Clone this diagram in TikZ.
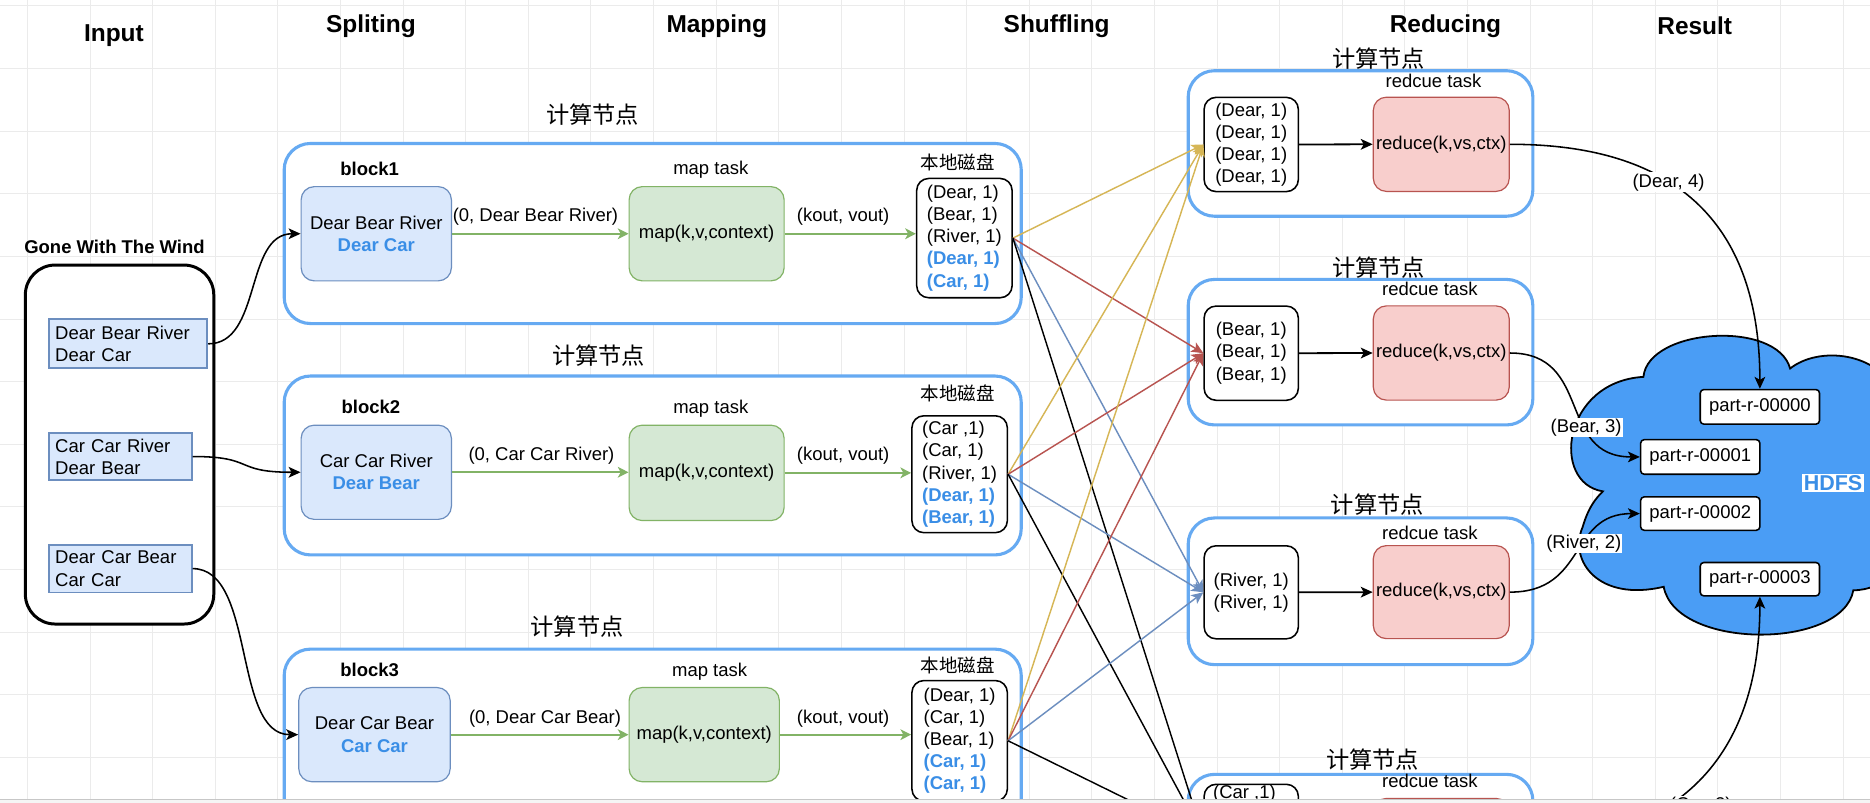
\documentclass[tikz,border=0pt]{standalone}
\usepackage{fontspec}
\setmainfont{Liberation Sans}
\newfontfamily\cjk{Noto Sans CJK SC}
\usetikzlibrary{arrows.meta}
\definecolor{cblue}{HTML}{66AAF2}
\definecolor{sfill}{HTML}{DAE8FC}
\definecolor{sline}{HTML}{6C8EBF}
\definecolor{gfill}{HTML}{D5E8D4}
\definecolor{gline}{HTML}{82B366}
\definecolor{rfill}{HTML}{F8CECC}
\definecolor{rline}{HTML}{B85450}
\definecolor{yline}{HTML}{D6B656}
\definecolor{tblue}{HTML}{3A8EE6}
\definecolor{cloudfill}{HTML}{4A9DF5}
\definecolor{gridc}{HTML}{EBEBEB}
\newcommand\fs{\fontsize{15.5}{18.5}\selectfont}
\begin{document}
\begin{tikzpicture}[x=1pt,y=-1pt,
  every node/.style={font=\fs, inner sep=0pt},
  phase/.style={font=\fontsize{20.5}{24}\selectfont\bfseries},
  boldlbl/.style={font=\fs\bfseries},
  nodetitle/.style={font=\cjk\fontsize{19.5}{23}\selectfont},
  disktitle/.style={font=\cjk\fs},
  container/.style={draw=cblue, line width=2.6pt, rounded corners=22pt, fill=white, anchor=north west},
  splitbox/.style={draw=sline, fill=sfill, line width=1pt, rounded corners=11pt, align=center, anchor=north west},
  mapbox/.style={draw=gline, fill=gfill, line width=1pt, rounded corners=11pt, anchor=north west},
  redbox/.style={draw=rline, fill=rfill, line width=1pt, rounded corners=11pt, anchor=north west},
  listbox/.style={draw=black, fill=white, line width=1.3pt, rounded corners=10pt, align=left, anchor=north west},
  inbox/.style={draw=sline, fill=sfill, line width=1.6pt, align=left, anchor=north west, inner xsep=5.5pt},
  partbox/.style={draw=black, fill=white, line width=1.3pt, rounded corners=3pt, anchor=north west, minimum width=100pt},
  garrow/.style={draw=gline, line width=1.5pt, -{Stealth[length=9pt,width=9pt,inset=2.5pt]}},
  karrow/.style={draw=black, line width=1.3pt, -{Stealth[length=10pt,width=9pt,inset=2.5pt]}},
  sharrow/.style={line width=1.2pt, -{Stealth[length=10pt,width=9pt,inset=2.5pt]}},
  elabel/.style={fill=white, inner sep=1pt},
]
\useasboundingbox (0,0) rectangle (1568,673.3);
\fill[white] (0,0) rectangle (1568,673.3);
\begin{scope}
\clip (0,0) rectangle (1568,670.5);
% grid
\foreach \i in {0,...,29} \draw[gridc, line width=0.8pt] ({23+52.5*\i},0) -- ({23+52.5*\i},671);
\foreach \j in {0,...,12} \draw[gridc, line width=0.8pt] (0,{5+52.5*\j}) -- (1568,{5+52.5*\j});

% phase titles
\node[phase] (hin) at (95.5,29.5) {Input};
\node[phase] (hsp) at (311,22) {Spliting};
\node[phase] (hmp) at (601,22) {Mapping};
\node[phase] (hsh) at (886,22) {Shuffling};
\node[phase] (hrd) at (1212,22) {Reducing};
\node[phase] (hrs) at (1421,22) {Result};

% input
\node[boldlbl] (gwtw) at (96,207) {Gone With The Wind};
\node[draw=black, line width=2.5pt, rounded corners=25pt, fill=white, anchor=north west, minimum width=158pt, minimum height=301pt] (inbig) at (20,221) {};
\node[inbox, text width=122pt, minimum height=41pt] (ib1) at (40,267) {Dear Bear River\\Dear Car};
\node[inbox, text width=109pt, minimum height=40pt] (ib2) at (40,362) {Car Car River\\Dear Bear};
\node[inbox, text width=109pt, minimum height=40pt] (ib3) at (40,456) {Dear Car Bear\\Car Car};

% map-side containers
\node[container, minimum width=618pt, minimum height=151pt] (c1) at (237,119) {};
\node[container, minimum width=618pt, minimum height=150pt] (c2) at (237,314) {};
\node[container, minimum width=618pt, minimum height=200pt] (c3) at (237,543) {};
\node[nodetitle] (t1) at (497,96) {计算节点};
\node[nodetitle] (t2) at (502,298) {计算节点};
\node[nodetitle] (t3) at (484,525) {计算节点};

% row 1
\node[boldlbl] (b1) at (310,142) {block1};
\node[splitbox, minimum width=126pt, minimum height=79pt] (s1) at (252,156) {Dear Bear River\\\textcolor{tblue}{\bfseries Dear Car}};
\node (mt1) at (596,142) {map task};
\node[mapbox, minimum width=130pt, minimum height=79pt] (m1) at (527,156) {map(k,v,context)};
\node[disktitle] (dt1) at (803,136) {本地磁盘};
\node[listbox, minimum width=80pt, minimum height=100pt] (d1) at (768,149) {(Dear, 1)\\(Bear, 1)\\(River, 1)\\\textcolor{tblue}{\bfseries (Dear, 1)}\\\textcolor{tblue}{\bfseries (Car, 1)}};
\draw[garrow] (s1.east) -- (m1.west);
\draw[garrow] (m1.east) -- (m1.east -| d1.west);
\node (lab1a) at (449,182) {(0, Dear Bear River)};
\node (lab1b) at (707,182) {(kout, vout)};

% row 2
\node[boldlbl] (b2) at (311,341) {block2};
\node[splitbox, minimum width=126pt, minimum height=79pt] (s2) at (252,356) {Car Car River\\\textcolor{tblue}{\bfseries Dear Bear}};
\node (mt2) at (596,343) {map task};
\node[mapbox, minimum width=130pt, minimum height=80pt] (m2) at (527,356) {map(k,v,context)};
\node[disktitle] (dt2) at (803,330) {本地磁盘};
\node[listbox, minimum width=80pt, minimum height=98pt] (d2) at (764,348) {(Car ,1)\\(Car, 1)\\(River, 1)\\\textcolor{tblue}{\bfseries (Dear, 1)}\\\textcolor{tblue}{\bfseries (Bear, 1)}};
\draw[garrow] (s2.east) -- (s2.east -| m2.west);
\draw[garrow] (m2.east) -- (m2.east -| d2.west);
\node (lab2a) at (454,382) {(0, Car Car River)};
\node (lab2b) at (707,382) {(kout, vout)};

% row 3
\node[boldlbl] (b3) at (310,562) {block3};
\node[splitbox, minimum width=127pt, minimum height=79pt] (s3) at (250,576) {Dear Car Bear\\\textcolor{tblue}{\bfseries Car Car}};
\node (mt3) at (595,563) {map task};
\node[mapbox, minimum width=126pt, minimum height=79pt] (m3) at (527,576) {map(k,v,context)};
\node[disktitle] (dt3) at (803,558) {本地磁盘};
\node[listbox, minimum width=80pt, minimum height=101pt] (d3) at (764,570) {(Dear, 1)\\(Car, 1)\\(Bear, 1)\\\textcolor{tblue}{\bfseries (Car, 1)}\\\textcolor{tblue}{\bfseries (Car, 1)}};
\draw[garrow] (s3.east) -- (s3.east -| m3.west);
\draw[garrow] (m3.east) -- (m3.east -| d3.west);
\node (lab3a) at (457,603) {(0, Dear Car Bear)};
\node (lab3b) at (707,603) {(kout, vout)};

% input -> split
\draw[karrow] (ib1.east) .. controls +(45,0) and +(-47,0) .. (s1.west);
\draw[karrow] (ib2.east) .. controls +(53,0) and +(-57,0) .. (s2.west);
\draw[karrow] (ib3.east) .. controls +(53,0) and +(-55,0) .. (s3.west);

% reduce containers
\node[container, minimum width=289pt, minimum height=122pt] (r1c) at (995,58) {};
\node[container, minimum width=289pt, minimum height=122pt] (r2c) at (995,233) {};
\node[container, minimum width=289pt, minimum height=123pt] (r3c) at (995,433) {};
\node[container, minimum width=289pt, minimum height=150pt] (r4c) at (995,648) {};
\node[nodetitle] (rt1) at (1156,49) {计算节点};
\node[nodetitle] (rt2) at (1156,224) {计算节点};
\node[nodetitle] (rt3) at (1155,423) {计算节点};
\node[nodetitle] (rt4) at (1151,637) {计算节点};
\node (rk1) at (1202,68) {redcue task};
\node (rk2) at (1199,242) {redcue task};
\node (rk3) at (1199,447) {redcue task};
\node (rk4) at (1199,655) {redcue task};

\node[listbox, minimum width=79pt, minimum height=79pt] (l1) at (1009,81) {(Dear, 1)\\(Dear, 1)\\(Dear, 1)\\(Dear, 1)};
\node[redbox, minimum width=114pt, minimum height=79pt] (rd1) at (1151,81) {reduce(k,vs,ctx)};
\node[listbox, minimum width=79pt, minimum height=79pt] (l2) at (1009,256) {(Bear, 1)\\(Bear, 1)\\(Bear, 1)};
\node[redbox, minimum width=114pt, minimum height=79pt] (rd2) at (1151,256) {reduce(k,vs,ctx)};
\node[listbox, minimum width=79pt, minimum height=78pt] (l3) at (1009,457) {(River, 1)\\(River, 1)};
\node[redbox, minimum width=114pt, minimum height=78pt] (rd3) at (1151,457) {reduce(k,vs,ctx)};
\node[listbox, minimum width=79pt, minimum height=88pt] (l4) at (1009,657) {};
\node[anchor=north west] (l4t) at (1017,658) {(Car ,1)};
\node[redbox, minimum width=114pt, minimum height=79pt] (rd4) at (1151,669) {};
\draw[karrow, line width=1.5pt] (l1.east) -- (rd1.west);
\draw[karrow, line width=1.5pt] (l2.east) -- (rd2.west);
\draw[karrow, line width=1.5pt] (l3.east) -- (rd3.west);

% shuffle
\foreach \d in {d1,d2,d3}{
  \draw[sharrow, yline] (\d.east) -- (l1.west);
  \draw[sharrow, rline] (\d.east) -- (l2.west);
  \draw[sharrow, sline] (\d.east) -- (l3.west);
  \draw[sharrow, black] (\d.east) -- (l4.west);
}

% HDFS cloud
\draw[fill=cloudfill, line width=1.5pt] (1378,316)
  .. controls (1382,275) and (1490,268) .. (1501,309)
  .. controls (1525,290) and (1575,295) .. (1590,330)
  -- (1590,480)
  .. controls (1580,490) and (1565,495) .. (1554,495)
  .. controls (1545,545) and (1405,545) .. (1395,492)
  .. controls (1340,505) and (1315,470) .. (1327,442)
  .. controls (1332,425) and (1338,418) .. (1344,412)
  .. controls (1300,405) and (1310,320) .. (1378,316) -- cycle;
\node[font=\fontsize{18}{21}\selectfont\bfseries, text=tblue, fill=white, inner sep=1.5pt] (hdfs) at (1537,405) {HDFS};
\node[partbox, minimum height=29pt] (p0) at (1425,326) {part-r-00000};
\node[partbox, minimum height=29pt] (p1) at (1375,368) {part-r-00001};
\node[partbox, minimum height=28pt] (p2) at (1375,416) {part-r-00002};
\node[partbox, minimum height=28pt] (p3) at (1425,471) {part-r-00003};

% reduce outputs
\draw[karrow] (rd1.east) .. controls +(95,0) and +(0,-175) .. (p0.north) node[elabel, pos=0.47] (o1) {(Dear, 4)};
\draw[karrow] (rd2.east) .. controls +(70,0) and +(-70,0) .. (p1.west) node[elabel, pos=0.65] (o2) {(Bear, 3)};
\draw[karrow] (rd3.east) .. controls +(65,0) and +(-60,0) .. (p2.west) node[elabel, pos=0.58] (o3) {(River, 2)};
\draw[karrow] (rd4.east) .. controls +(135,0) and +(0,140) .. (p3.south);
\node[elabel] (o4) at (1426,676) {(Car, 2)};
\end{scope}
\draw[black!22, line width=1pt] (0,670.5) -- (1568,670.5);
\fill[white!96!black] (0,671) rectangle (1568,673.3);
\end{tikzpicture}
\end{document}
